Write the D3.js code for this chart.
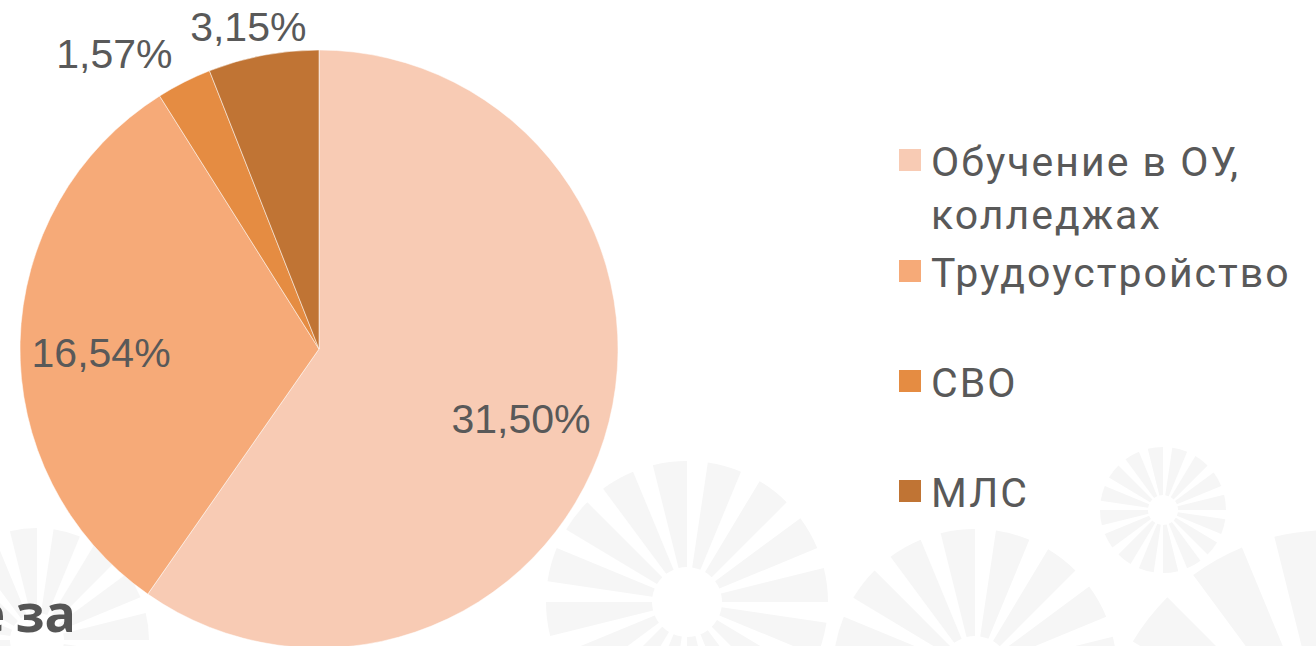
<!DOCTYPE html>
<html>
<head>
<meta charset="utf-8">
<script src="https://cdn.jsdelivr.net/npm/d3@7"></script>
<style>
	html, body { margin: 0; padding: 0; background: #fff; overflow: hidden; }
</style>
</head>
<body>
<script>
// data
var categories = ["Обучение в ОУ, колледжах", "Трудоустройство", "СВО", "МЛС"];
var legendLines = [["Обучение в ОУ,", "колледжах"], ["Трудоустройство"], ["СВО"], ["МЛС"]];
var values = [31.50, 16.54, 1.57, 3.15];
var valueLabels = ["31,50%", "16,54%", "1,57%", "3,15%"];
var colors = ["#F8CBB4", "#F6AA78", "#E58C42", "#C07434"];

function main(){
	var w = 1316;
	var h = 646;
	var cx = 319, cy = 349, R = 299;

	var svg = d3.select("body")
				.append("svg")
				.attr("width", w)
				.attr("height", h);

	// faint background sunbursts (slide decoration)
	var bursts = [
		{x: 687, y: 602, r0: 35, r1: 141},
		{x: 1163, y: 510, r0: 15, r1: 63},
		{x: 975, y: 671, r0: 35, r1: 142},
		{x: 37, y: 640, r0: 27, r1: 112},
		{x: 1330, y: 760, r0: 55, r1: 230}
	];
	var rayArc = d3.arc();
	var deg = Math.PI / 180;
	bursts.forEach(function(b){
		var g = svg.append("g").attr("transform", "translate(" + b.x + "," + b.y + ")");
		for(var k = 0; k < 16; k++){
			g.append("path")
				.attr("d", rayArc({innerRadius: b.r0, outerRadius: b.r1,
					startAngle: (k * 22.5 - 14) * deg, endAngle: (k * 22.5) * deg}))
				.attr("fill", "#f6f6f6");
		}
	});

	// tail of a slide title behind the chart
	svg.append("text")
		.attr("x", 76)
		.attr("y", 632)
		.attr("text-anchor", "end")
		.attr("font-family", "Open Sans")
		.attr("font-weight", 700)
		.attr("font-size", 52)
		.attr("word-spacing", -3)
		.attr("fill", "#555")
		.text("е за");

	var pie = d3.pie().sort(null).value(function(d){ return d; });
	var arcs = pie(values);
	var arc = d3.arc().innerRadius(0).outerRadius(R);

	var g = svg.append("g").attr("transform", "translate(" + cx + "," + cy + ")");
	g.selectAll(".slice")
		.data(arcs)
		.enter()
		.append("path")
		.attr("class", "slice")
		.attr("d", arc)
		.attr("fill", function(d, i){ return colors[i]; })
		.attr("stroke", "#fff")
		.attr("stroke-opacity", 0.5)
		.attr("stroke-width", 1);

	// label placement: radius factor and angle nudge (degrees), like Excel best fit
	var labelK = [0.714, 0.729, 1.204, 1.106];
	var labelDA = [1.4, -2.3, -7.8, -1.6];
	g.selectAll(".lbl")
		.data(arcs)
		.enter()
		.append("text")
		.attr("class", "lbl")
		.attr("transform", function(d, i){
			var a = (d.startAngle + d.endAngle) / 2 + labelDA[i] * deg;
			var r = R * labelK[i];
			return "translate(" + (r * Math.sin(a)) + "," + (-r * Math.cos(a)) + ")";
		})
		.attr("text-anchor", "middle")
		.attr("dy", "0.36em")
		.attr("font-family", "Liberation Sans, Arial, sans-serif")
		.attr("font-size", 41)
		.attr("fill", "#595959")
		.text(function(d, i){ return valueLabels[i]; });

	// legend
	var legY = [149, 260, 370, 480];
	var leg = svg.selectAll(".leg")
		.data(categories)
		.enter()
		.append("g")
		.attr("class", "leg")
		.attr("transform", function(d, i){ return "translate(899," + legY[i] + ")"; });
	leg.append("rect")
		.attr("width", 22)
		.attr("height", 22)
		.attr("fill", function(d, i){ return colors[i]; });
	leg.each(function(d, i){
		var t = d3.select(this).append("text")
			.attr("x", 32)
			.attr("y", 27)
			.attr("font-family", "Roboto")
			.attr("font-size", 41)
			.attr("letter-spacing", 2)
			.attr("fill", "#595959");
		legendLines[i].forEach(function(line, j){
			t.append("tspan")
				.attr("x", 32)
				.attr("dy", j === 0 ? 0 : 53)
				.text(line);
		});
	});
}

main();
</script>
</body>
</html>
